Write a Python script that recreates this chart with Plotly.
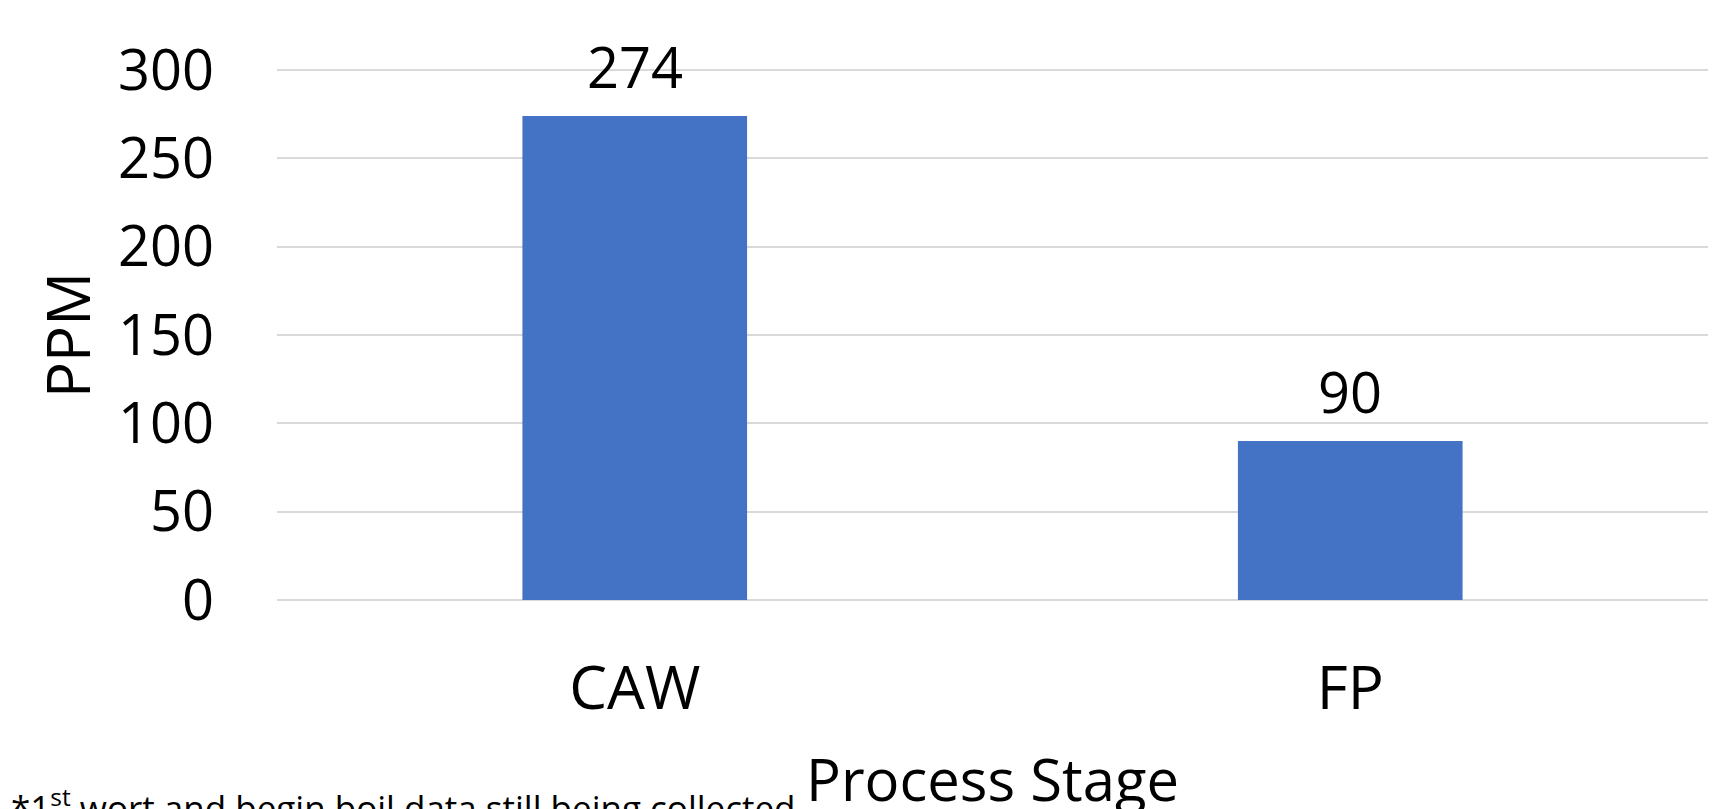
import plotly.graph_objects as go

categories = ["CAW", "FP"]
values = [274, 90]
y_ticks = [0, 50, 100, 150, 200, 250, 300]
x_title = "Process Stage"
y_title = "PPM"
note = "*1<sup>st</sup> wort and begin boil data still being collected"

W, H = 1717, 809
L, R, T, B = 277, 9, 68, 209
plot_w = W - L - R
plot_h = H - T - B

FONT = "Open Sans, Noto Sans, sans-serif"

fig = go.Figure()
fig.add_trace(go.Bar(
    x=categories, y=values,
    marker=dict(color="#4472C4", line=dict(width=0)),
    width=0.314,
    hoverinfo="skip",
))

for c, v in zip(categories, values):
    fig.add_annotation(x=c, y=v, text=str(v), showarrow=False,
                       yanchor="middle", yshift=50,
                       font=dict(size=56, color="black", family=FONT))

# y axis title
fig.add_annotation(xref="paper", yref="paper", x=(67 - L) / plot_w, y=((H - B) - 335) / plot_h,
                   text=y_title, textangle=-90, showarrow=False,
                   xanchor="center", yanchor="middle",
                   font=dict(size=60, color="black", family=FONT))
# x axis title
fig.add_annotation(xref="paper", yref="paper", x=0.5, y=((H - B) - 778) / plot_h,
                   text=x_title, showarrow=False,
                   xanchor="center", yanchor="middle",
                   font=dict(size=58, color="black", family=FONT))
# footnote
fig.add_annotation(xref="paper", yref="paper", x=(9 - L) / plot_w, y=((H - B) - 778) / plot_h,
                   text=note, showarrow=False,
                   xanchor="left", yanchor="top",
                   font=dict(size=35, color="black", family=FONT))

fig.update_layout(
    width=W, height=H,
    margin=dict(l=L, r=R, t=T, b=B, pad=0),
    paper_bgcolor="white", plot_bgcolor="white",
    showlegend=False,
    font=dict(family=FONT, color="black"),
    xaxis=dict(showgrid=False, showline=False, zeroline=False, ticks="",
               tickfont=dict(size=60, color="black", family=FONT),
               ticklabelstandoff=48),
    yaxis=dict(range=[0, 301.2], tickvals=y_ticks, showgrid=True,
               gridcolor="#d9d9d9", gridwidth=2, zeroline=True,
               zerolinecolor="#d9d9d9", zerolinewidth=2, showline=False,
               ticks="", tickfont=dict(size=56, color="black", family=FONT),
               ticklabelstandoff=62),
)

fig.write_html("out.html")
